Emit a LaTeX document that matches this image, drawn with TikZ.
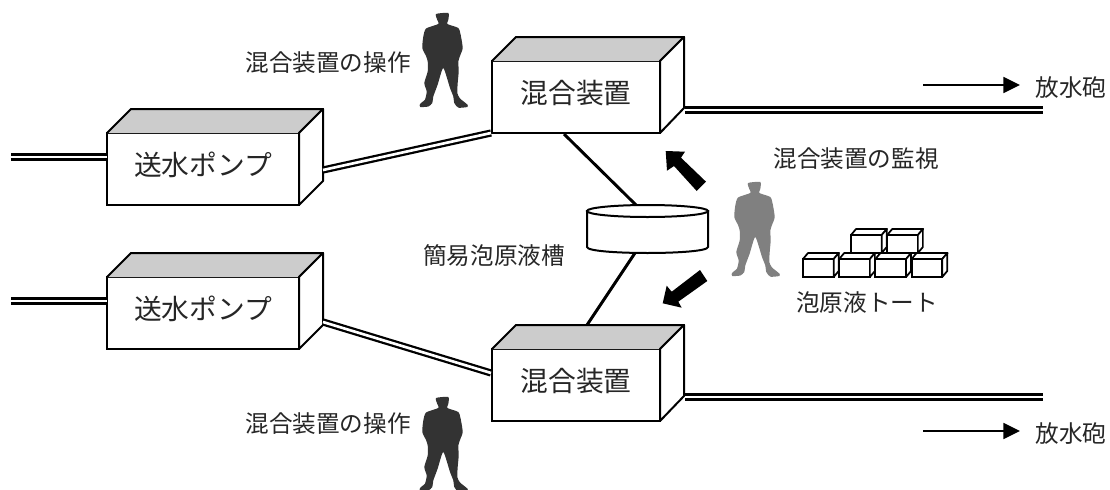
\documentclass[tikz,border=0pt]{standalone}
\usepackage{fontspec}
\setmainfont{Noto Sans CJK JP}
\usetikzlibrary{arrows.meta,shapes.geometric}
\definecolor{inkdark}{HTML}{333333}
\definecolor{inkgray}{HTML}{808080}
\definecolor{roof}{HTML}{CCCCCC}
\definecolor{txt}{HTML}{262626}
\tikzset{
  frontbox/.style={draw=black,line width=1.5pt,fill=white,rectangle,inner sep=0pt,outer sep=0pt,text=txt,
    font=\fontsize{20.8pt}{24pt}\selectfont,text height=14.8pt,text depth=5pt},
  mixerbox/.style={frontbox,minimum width=126pt,minimum height=54pt},
  pumpbox/.style={frontbox,minimum width=144pt,minimum height=54pt},
  totebox/.style={draw=black,line width=1.5pt,fill=white,rectangle,inner sep=0pt,outer sep=0pt,minimum width=23pt,minimum height=13.5pt},
  boxface/.style={draw=black,line width=1.5pt,line join=round},
  toteface/.style={draw=black,line width=1.3pt,fill=white,line join=round},
  lbl/.style={text=txt,inner sep=0pt,font=\fontsize{17.7pt}{20pt}\selectfont},
  pipe/.style={draw=black,double=white,line width=1.7pt,double distance=2pt},
  solidline/.style={draw=black,line width=2.2pt},
  flow/.style={draw=black,line width=1.2pt,-{Triangle[length=12.5pt,width=12pt]}},
  blockarrow/.style={fill=black,draw=none},
  tankface/.style={draw=black,line width=1.5pt,fill=white},
}
\newcommand{\solidbox}[3]{%
  \fill[roof] (#1.north west) -- ++(24,-24) -- ++(#3,0) -- (#1.north east) -- cycle;
  \draw[boxface] (#1.north west) -- ++(24,-24) -- ++(#3,0) -- (#1.north east);
  \draw[boxface,fill=white] (#1.north east) -- ++(24,-24) -- ++(0,#2) -- (#1.south east) -- cycle;
}
\newcommand{\toteunit}[3]{%
  \node[totebox,anchor=south west] (#1) at (#2,#3) {};
  \path[toteface] (#1.north west) -- ++(5,-6) -- ++(31,0) -- (#1.north east) -- cycle;
  \path[toteface] (#1.north east) -- ++(5,-6) -- ++(0,18) -- (#1.south east) -- cycle;
}
\newcommand{\guardfigure}[3]{%
  \begin{scope}[shift={(#1,#2)}]
  \fill[#3] plot[smooth cycle,tension=0.35] coordinates {
   (21,6) (33.3,5) (33.3,12) (32.3,16) (43.3,20) (45.7,27) (47.7,40) (45,48) (43.3,53.5)
   (43.7,63.5) (42.7,75) (42.3,85) (45,90.5) (52.3,96.5) (52.3,99) (43.3,99.7) (39.3,95)
   (38.3,88.5) (35,80) (28.3,60) (22.7,76.5) (18.3,88.5) (17.3,95) (13.3,98.5) (5.3,99)
   (5,96) (10,91.5) (11.7,83.5) (9.3,75) (12.7,63.5) (12.7,53.5) (11,48) (7.3,40) (8.3,28.5) (11,20.5) (23.3,16) (22.3,12)};
  \end{scope}
}
\begin{document}
\begin{tikzpicture}[x=0.75pt,y=-0.75pt]
\useasboundingbox[fill=white] (0,0) rectangle (1110,489);
\clip (0,0) rectangle (1110,489);

% main boxes
\node[mixerbox] (m1) at (576,97) {混合装置};
\solidbox{m1}{71}{168}
\node[mixerbox] (m2) at (576,385) {混合装置};
\solidbox{m2}{71}{168}
\node[pumpbox] (p1) at (203,169) {送水ポンプ};
\solidbox{p1}{72}{192}
\node[pumpbox] (p2) at (203,313) {送水ポンプ};
\solidbox{p2}{72}{192}

% pipe end points
\coordinate (p1in) at (11,157);
\coordinate (p1inb) at (107,157);
\coordinate (p2in) at (11,301);
\coordinate (p2inb) at (107,301);
\coordinate (p1out) at (323,170);
\coordinate (m1in) at (491,133);
\coordinate (p2out) at (323,322);
\coordinate (m2in) at (491,373);
\coordinate (m1out) at (685,110);
\coordinate (m1end) at (1043,110);
\coordinate (m2out) at (685,397);
\coordinate (m2end) at (1043,397);
\draw[pipe] (p1in) -- (p1inb);
\draw[pipe] (p2in) -- (p2inb);
\draw[pipe] (p1out) -- (m1in);
\draw[pipe] (p2out) -- (m2in);
\draw[pipe] (m1out) -- (m1end);
\draw[pipe] (m2out) -- (m2end);

% tank
\path[tankface] (587,211) -- (587,247) .. controls (587,255) and (708,255) .. (708,247) -- (708,211) -- cycle;
\node[draw=black,line width=1.5pt,fill=white,ellipse,inner sep=0pt,minimum width=90.75pt,minimum height=9pt] (tank) at (647.5,211) {};

% tank connectors
\coordinate (m1foot) at (564,134);
\coordinate (tanktop) at (636,205);
\coordinate (tankbot) at (635,253);
\coordinate (m2head) at (587,325);
\draw[solidline] (m1foot) -- (tanktop);
\draw[solidline] (tankbot) -- (m2head);

% block arrows
\fill[blockarrow] (665.7,151) -- (685,151.7) -- (681,157.7) -- (706,181.7) -- (696.7,191) -- (674,166) -- (667,170.7) -- cycle;
\fill[blockarrow] (700,270) -- (707.3,281) -- (678.3,301.7) -- (681.7,307.7) -- (662.7,303.3) -- (666.7,285.7) -- (671.7,291.7) -- cycle;

% people
\guardfigure{415}{8}{inkdark}
\guardfigure{415}{392}{inkdark}
\guardfigure{727}{177}{inkgray}

% totes
\toteunit{t5}{851}{253}
\toteunit{t6}{887.2}{253}
\toteunit{t1}{803}{277}
\toteunit{t2}{839.2}{277}
\toteunit{t3}{875.4}{277}
\toteunit{t4}{911.6}{277}

% flow arrows
\coordinate (a1s) at (923,85);
\coordinate (a1e) at (1020,85);
\coordinate (a2s) at (923,431);
\coordinate (a2e) at (1020,431);
\draw[flow] (a1s) -- (a1e);
\draw[flow] (a2s) -- (a2e);

% labels
\node[lbl] (l1) at (328,63) {混合装置の操作};
\node[lbl] (l2) at (328,424) {混合装置の操作};
\node[lbl] (l3) at (856,159) {混合装置の監視};
\node[lbl] (l4) at (494,256) {簡易泡原液槽};
\node[lbl] (l5) at (867,303) {泡原液トート};
\node[lbl] (l6) at (1071,88) {放水砲};
\node[lbl] (l7) at (1071,434) {放水砲};
\end{tikzpicture}
\end{document}
